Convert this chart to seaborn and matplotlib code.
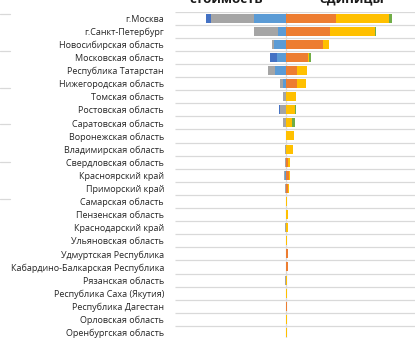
import numpy as np
import pandas as pd
import matplotlib
matplotlib.use("Agg")
import matplotlib.pyplot as plt
from matplotlib.lines import Line2D
import seaborn as sns

regions = [
    "г.Москва", "г.Санкт-Петербург", "Новосибирская область", "Московская область",
    "Республика Татарстан", "Нижегородская область", "Томская область",
    "Ростовская область", "Саратовская область", "Воронежская область",
    "Владимирская область", "Свердловская область", "Красноярский край",
    "Приморский край", "Самарская область", "Пензенская область",
    "Краснодарский край", "Ульяновская область", "Удмуртская Республика",
    "Кабардино-Балкарская Республика", "Рязанская область",
    "Республика Саха (Якутия)", "Республика Дагестан", "Орловская область",
    "Оренбургская область",
]

# cost side (drawn to the left of zero), three components
cost_1 = [32.0, 8.3, 12.3, 8.7, 11.3, 3.0, 0, 0, 0, 0, 0, 0, 1.3, 0, 0, 0, 0, 0, 0, 0, 0, 0, 0, 0, 0]
cost_2 = [43.3, 23.4, 1.4, 0, 7.0, 2.7, 3.0, 5.6, 2.6, 0, 1.0, 1.0, 0.7, 0.7, 0, 0, 1.0, 0, 0, 0, 0.7, 0, 0, 0, 0]
cost_3 = [4.7, 0, 0, 7.0, 0, 0, 0, 1.0, 0, 0, 0, 0, 0, 0, 0, 0, 0, 0, 0, 0, 0, 0, 0, 0, 0]

# units side (drawn to the right of zero), three components
units_1 = [49.7, 44.0, 37.0, 21.7, 11.0, 10.7, 0, 0, 0, 0, 0, 2.3, 2.7, 2.3, 0, 0, 0, 0, 1.7, 2.0, 0, 0, 0.6, 0, 0]
units_2 = [53.3, 45.0, 5.7, 1.6, 9.5, 9.0, 9.5, 8.8, 5.7, 8.3, 7.3, 1.4, 1.3, 0.6, 1.4, 1.7, 1.5, 1.3, 0.3, 0.3, 1.0, 1.0, 0.4, 1.0, 1.0]
units_3 = [3.3, 1.0, 0, 2.0, 0.7, 0, 0, 0.7, 2.8, 0, 0, 0, 0, 0, 0, 0, 0, 0, 0, 0, 0, 0, 0, 0, 0]

col_cost = ["#5B9BD5", "#A5A5A5", "#4472C4"]
col_units = ["#ED7D31", "#FFC000", "#70AD47"]

sns.set_style("white")
plt.rcParams["font.family"] = ["Open Sans", "DejaVu Sans"]

df = pd.DataFrame({
    "region": regions,
    "c1": cost_1, "c2": cost_2, "c3": cost_3,
    "u1": units_1, "u2": units_2, "u3": units_3,
})
df["cost_in"] = -df["c1"]
df["cost_mid"] = -(df["c1"] + df["c2"])
df["cost_out"] = -(df["c1"] + df["c2"] + df["c3"])
df["units_in"] = df["u1"]
df["units_mid"] = df["u1"] + df["u2"]
df["units_out"] = df["u1"] + df["u2"] + df["u3"]

W, H = 415, 338
fig = plt.figure(figsize=(W / 100, H / 100), dpi=100)

left_px, center_px, top_px, row_px = 175, 286, 11.5, 13.1
n = len(regions)
ax_h = n * row_px
ax = fig.add_axes([left_px / W, (H - top_px - ax_h) / H, (W - left_px) / W, ax_h / H])

# category gridlines between rows
ax.hlines(np.arange(-0.5, n), -(center_px - left_px), W - center_px,
          color="#D9D9D9", lw=0.9, zorder=0)

bar_w = 0.68
for col, c in zip(["cost_out", "cost_mid", "cost_in"], col_cost[::-1]):
    sns.barplot(data=df, x=col, y="region", orient="h", color=c, saturation=1,
                errorbar=None, width=bar_w, linewidth=0, ax=ax, zorder=2)
for col, c in zip(["units_out", "units_mid", "units_in"], col_units[::-1]):
    sns.barplot(data=df, x=col, y="region", orient="h", color=c, saturation=1,
                errorbar=None, width=bar_w, linewidth=0, ax=ax, zorder=2)

ax.axvline(0, color="#D9D9D9", lw=0.9, zorder=1)

ax.set_xlim(-(center_px - left_px), W - center_px)
ax.set_ylim(n - 0.5, -0.5)
ax.set_xlabel("")
ax.set_ylabel("")
ax.set_xticks([])
ax.tick_params(axis="y", length=0, pad=8, labelsize=6.45, labelcolor="#262626")
for s in ax.spines.values():
    s.set_visible(False)

# column headers
fig.text(226 / W, 1 - 2.8 / H, "стоимость", ha="center", va="baseline",
         fontsize=9.5, fontweight="bold", color="#1a1a1a")
fig.text(352 / W, 1 - 2.8 / H, "единицы", ha="center", va="baseline",
         fontsize=9.5, fontweight="bold", color="#1a1a1a")

# gridline stubs of the neighbouring panel
for y in [14, 51, 88, 124.5, 162, 199]:
    fig.add_artist(Line2D([0, 9.5 / W], [1 - y / H, 1 - y / H],
                          color="#D9D9D9", lw=0.9))

fig.savefig("out.png", dpi=100)
